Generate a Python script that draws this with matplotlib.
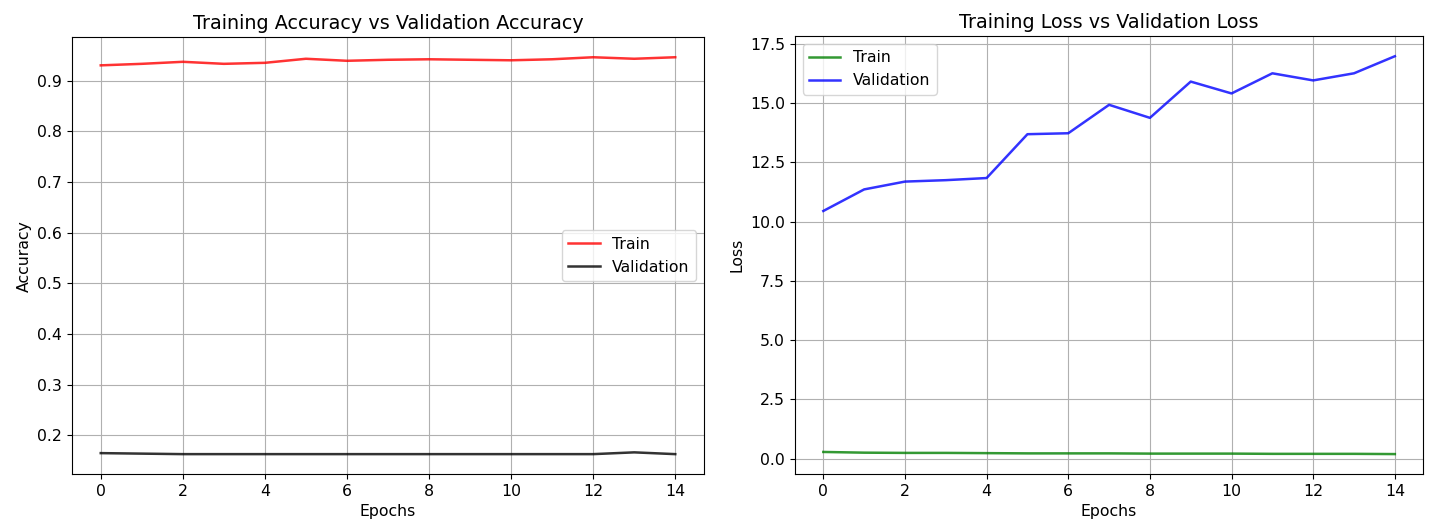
import matplotlib.pyplot as plt

epochs = list(range(15))
train_acc = [0.930, 0.933, 0.937, 0.933, 0.935, 0.943, 0.939, 0.941,
             0.942, 0.941, 0.940, 0.942, 0.946, 0.943, 0.946]
val_acc = [0.165, 0.164, 0.163, 0.163, 0.163, 0.163, 0.163, 0.163,
           0.163, 0.163, 0.163, 0.163, 0.163, 0.1665, 0.163]
train_loss = [0.28, 0.25, 0.24, 0.24, 0.23, 0.22, 0.22, 0.22,
              0.21, 0.21, 0.21, 0.20, 0.20, 0.20, 0.19]
val_loss = [10.45, 11.36, 11.69, 11.75, 11.84, 13.69, 13.73, 14.93,
            14.38, 15.91, 15.41, 16.26, 15.96, 16.26, 16.98]

plt.rcParams["font.size"] = 11.3

fig = plt.figure(figsize=(14.32, 5.26), dpi=100)
ax1 = fig.add_axes([0.0503, 0.0989, 0.4413, 0.830])
ax2 = fig.add_axes([0.555, 0.0989, 0.439, 0.832])

# Accuracy
ax1.plot(epochs, train_acc, color="red", alpha=0.8, lw=1.8, label="Train")
ax1.plot(epochs, val_acc, color="black", alpha=0.8, lw=1.8, label="Validation")
ax1.set_title("Training Accuracy vs Validation Accuracy", fontsize=13.8)
ax1.set_xlabel("Epochs")
ax1.set_ylabel("Accuracy")
ax1.grid(True)
ax1.legend(loc="center right")

# Loss
ax2.plot(epochs, train_loss, color="green", alpha=0.8, lw=1.8, label="Train")
ax2.plot(epochs, val_loss, color="blue", alpha=0.8, lw=1.8, label="Validation")
ax2.set_title("Training Loss vs Validation Loss", fontsize=13.8)
ax2.set_xlabel("Epochs")
ax2.set_ylabel("Loss")
ax2.grid(True)
ax2.legend(loc="upper left")

fig.savefig("out.png", dpi=100)
